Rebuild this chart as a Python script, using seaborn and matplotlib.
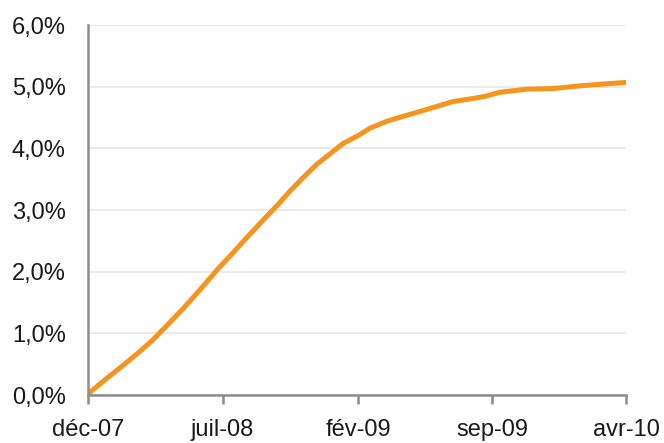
import matplotlib
matplotlib.use("Agg")
import matplotlib.pyplot as plt
import pandas as pd
import seaborn as sns

# Cumulative rate, in %, by date
dates = [
    "2007-12-01", "2007-12-28", "2008-01-24", "2008-02-19", "2008-03-11",
    "2008-04-06", "2008-05-03", "2008-05-29", "2008-06-24", "2008-07-16",
    "2008-08-08", "2008-09-09", "2008-09-25", "2008-10-16", "2008-11-06",
    "2008-11-27", "2008-12-18", "2009-01-08", "2009-02-01", "2009-02-20",
    "2009-03-18", "2009-04-13", "2009-05-10", "2009-06-05", "2009-07-01",
    "2009-08-02", "2009-08-23", "2009-09-13", "2009-10-26", "2009-12-07",
    "2010-01-13", "2010-02-19", "2010-04-01",
]
values = [
    0.02, 0.25, 0.47, 0.69, 0.88,
    1.15, 1.44, 1.74, 2.05, 2.29,
    2.55, 2.90, 3.07, 3.31, 3.53,
    3.74, 3.91, 4.08, 4.21, 4.33,
    4.44, 4.52, 4.60, 4.68, 4.76,
    4.81, 4.85, 4.91, 4.96, 4.97,
    5.01, 5.04, 5.07,
]

tick_dates = ["2007-12-01", "2008-07-01", "2009-02-01", "2009-09-01", "2010-04-01"]
tick_labels = ["déc-07", "juil-08", "fév-09", "sep-09", "avr-10"]
y_ticks = [0, 1, 2, 3, 4, 5, 6]
y_labels = ["0,0%", "1,0%", "2,0%", "3,0%", "4,0%", "5,0%", "6,0%"]

df = pd.DataFrame({"date": pd.to_datetime(dates), "taux": values})

sns.set_theme(style="white")
plt.rcParams["font.family"] = ["Liberation Sans", "DejaVu Sans"]

fig = plt.figure(figsize=(6.64, 4.43), dpi=100)
ax = fig.add_axes([0.1325, 0.108, 0.8105, 0.8355])

sns.lineplot(data=df, x="date", y="taux", ax=ax, color="#F7941E",
             linewidth=3.6, solid_capstyle="round", solid_joinstyle="round")

ax.set_xlim(pd.Timestamp(tick_dates[0]), pd.Timestamp(tick_dates[-1]))
ax.set_ylim(0, 6)
ax.set_xticks(pd.to_datetime(tick_dates))
ax.set_xticklabels(tick_labels)
ax.set_yticks(y_ticks)
ax.set_yticklabels(y_labels)
ax.set_xlabel("")
ax.set_ylabel("")

ax.yaxis.grid(True, color="#e8e8e8", linewidth=1.2)
ax.xaxis.grid(False)
ax.set_axisbelow(True)

for side in ("top", "right"):
    ax.spines[side].set_visible(False)
for side in ("left", "bottom"):
    ax.spines[side].set_color("#8c8c8c")
    ax.spines[side].set_linewidth(1.8)

ax.tick_params(axis="x", which="major", bottom=True, length=6.5, width=1.8,
               color="#8c8c8c", pad=11, labelsize=17, labelcolor="#1a1a1a")
ax.tick_params(axis="y", which="major", left=False, length=0, pad=16,
               labelsize=17, labelcolor="#1a1a1a")

for lab in ax.get_xticklabels() + ax.get_yticklabels():
    lab.set_clip_on(False)

fig.savefig("out.png", dpi=100)
